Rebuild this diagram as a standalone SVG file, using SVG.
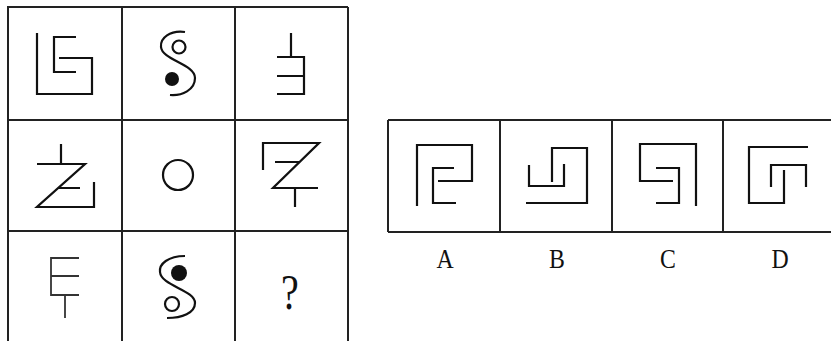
<svg xmlns="http://www.w3.org/2000/svg" width="831" height="341" viewBox="0 0 831 341">
<style>
.g{stroke:#222;stroke-width:2;fill:none}
.f{stroke:#111;stroke-width:2.2;fill:none;stroke-linecap:butt}
.t{stroke:#333;stroke-width:1.8;fill:none}
.lbl{font-family:"Liberation Serif",serif;font-size:28px;fill:#111;text-anchor:middle}
</style>
<rect width="831" height="341" fill="#fff"/>
<g id="connectors"></g>
<g id="grid">
<path class="g" d="M8,7H348M8,120H348M8,231H348M8,6V341M122,7V341M235,7V341M348,7V341"/>
</g>
<g id="cell1"><path class="f" d="M37,33V94H92V58H59M76,37H54V72H76"/></g>
<g id="cell2">
<path class="f" d="M185,32C170,30 160,38 161,47C162,60 195,64 195,78C195,90 182,96 170,95"/>
<circle cx="179" cy="47" r="6.5" class="f"/>
<circle cx="172" cy="79" r="7" fill="#111"/>
</g>
<g id="cell3"><path class="f" d="M291,33V57M277,57H304V94H277M277,76H304"/></g>
<g id="cell4"><path class="f" d="M61,144V164M37,164H85L37,207H94V182M58,188H80"/></g>
<g id="cell5"><circle cx="178" cy="175" r="15" class="f"/></g>
<g id="cell6"><path class="f" d="M263,170V143H319L273,188H318M295,188V207M275,162H300"/></g>
<g id="cell7"><path class="t" d="M79,258H51V295H79M51,276H79M65,295V318"/></g>
<g id="cell8">
<path class="f" d="M185,256C168,256 159,264 160,272C161,286 195,290 195,303C195,313 182,318 167,318"/>
<circle cx="179" cy="273" r="8" fill="#111"/>
<circle cx="172" cy="304" r="7" class="f"/>
</g>
<g id="cell9"><text transform="translate(290,309) scale(0.8,1)" font-family="Liberation Serif,serif" font-size="50" fill="#111" text-anchor="middle">?</text></g>
<g id="options">
<path class="g" d="M388,120H831M388,232H831M388,120V232M500,120V232M612,120V232M723,120V232"/>
</g>
<g id="optA"><path class="f" d="M417,206V145H472V181H438M454,168H433V203H456"/><text class="lbl" transform="translate(445,268) scale(0.85,1)">A</text></g>
<g id="optB"><path class="f" d="M526,203H587V148H552V182M529,165V186H564V164"/><text class="lbl" transform="translate(557,268) scale(0.85,1)">B</text></g>
<g id="optC"><path class="f" d="M673,181H640V144H696V206M656,168H679V203H656"/><text class="lbl" transform="translate(668,268) scale(0.85,1)">C</text></g>
<g id="optD"><path class="f" d="M808,147H749V203H784V170M771,187V165H806V187"/><text class="lbl" transform="translate(780,268) scale(0.85,1)">D</text></g>
</svg>
